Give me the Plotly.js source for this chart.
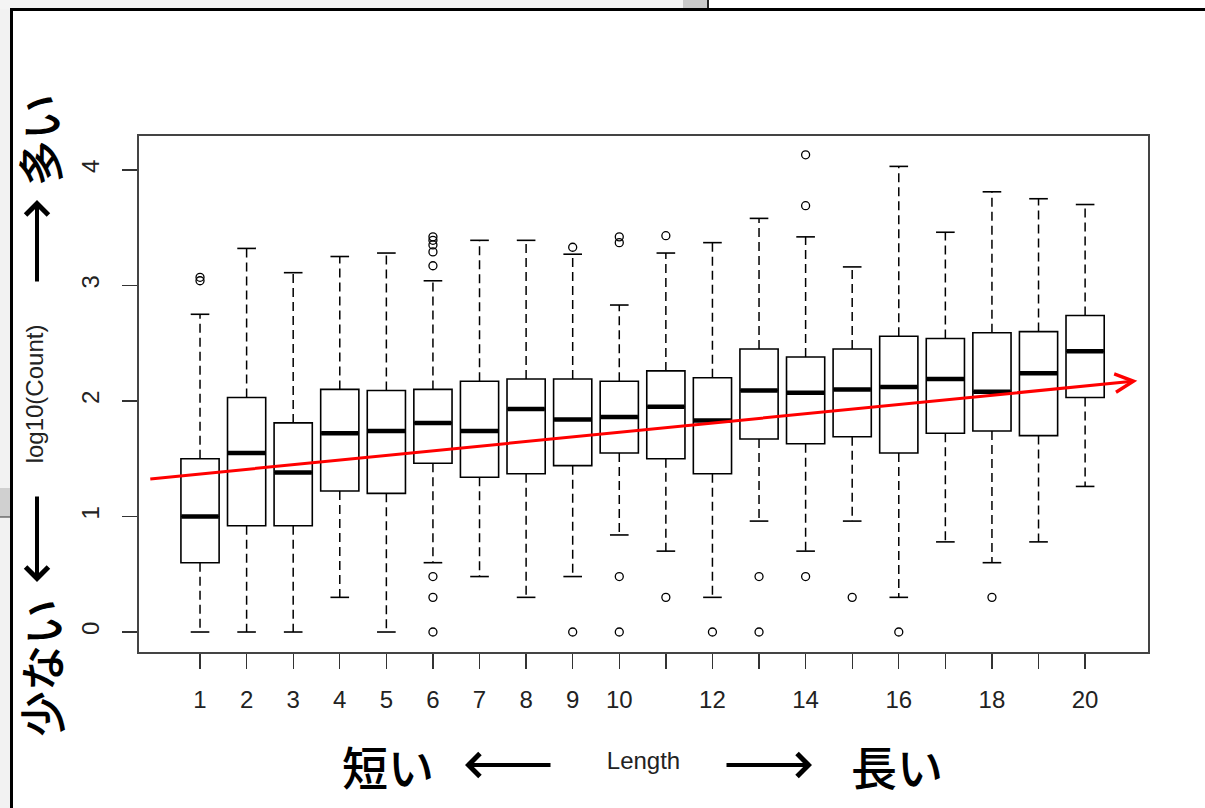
<!DOCTYPE html>
<html>
<head>
<meta charset="utf-8">
<script src="https://cdn.plot.ly/plotly-3.0.1.min.js"></script>
<style>html,body{margin:0;padding:0;background:#fff;}#chart{width:1205px;height:808px;}</style>
</head>
<body>
<div id="chart"></div>
<script>
// ---- data ----
const lengths = [1,2,3,4,5,6,7,8,9,10,11,12,13,14,15,16,17,18,19,20];
const q1   = [0.60,0.92,0.92,1.22,1.20,1.46,1.34,1.37,1.44,1.55,1.50,1.37,1.67,1.63,1.69,1.55,1.72,1.74,1.70,2.03];
const med  = [1.00,1.55,1.38,1.72,1.74,1.81,1.74,1.93,1.84,1.86,1.95,1.83,2.09,2.07,2.10,2.12,2.19,2.08,2.24,2.43];
const q3   = [1.50,2.03,1.81,2.10,2.09,2.10,2.17,2.19,2.19,2.17,2.26,2.20,2.45,2.38,2.45,2.56,2.54,2.59,2.60,2.74];
const lowW = [0,0,0,0.30,0,0.60,0.48,0.30,0.48,0.84,0.70,0.30,0.96,0.70,0.96,0.30,0.78,0.60,0.78,1.26];
const upW  = [2.75,3.32,3.11,3.25,3.28,3.04,3.39,3.39,3.27,2.83,3.28,3.37,3.58,3.42,3.16,4.03,3.46,3.81,3.75,3.70];
const outX = [1,1, 6,6,6,6,6,6,6,6, 9,9, 10,10,10,10, 11,11, 12, 13,13, 14,14,14, 15, 16, 18];
const outY = [3.04,3.07, 3.42,3.39,3.35,3.29,3.17,0.48,0.30,0, 3.33,0, 3.42,3.37,0.48,0, 3.43,0.30, 0, 0.48,0, 4.13,3.69,0.48, 0.30, 0, 0.30];
const xTickVals = [1,2,3,4,5,6,7,8,9,10,11,12,13,14,15,16,17,18,19,20];
const xTickText = ['1','2','3','4','5','6','7','8','9','10','','12','','14','','16','','18','','20'];
const yTickVals = [0,1,2,3,4];
const trendX = [-0.1, 21.12];
const trendY = [1.324, 2.174];

// ---- layout geometry ----
const W = 1205, H = 808;
const M = {l:139, r:57, t:136, b:156};
const PW = W - M.l - M.r, PH = H - M.t - M.b;
const px = v => (v - M.l) / PW;
const py = v => (H - M.b - v) / PH;

const BOXW = 0.82, CAP = 0.2;
const wx = [], wy = [], cx = [], cy = [], mx = [], my = [];
lengths.forEach((L, i) => {
  wx.push(L, L, null, L, L, null);
  wy.push(q3[i], upW[i], null, q1[i], lowW[i], null);
  cx.push(L - CAP, L + CAP, null, L - CAP, L + CAP, null);
  cy.push(upW[i], upW[i], null, lowW[i], lowW[i], null);
  mx.push(L - BOXW/2 + 0.01, L + BOXW/2 - 0.01, null);
  my.push(med[i], med[i], null);
});

const traces = [
  {type:'scatter', mode:'lines', x:wx, y:wy, hoverinfo:'skip', showlegend:false,
   line:{color:'#000', width:1.5, dash:'9px,5px'}},
  {type:'scatter', mode:'lines', x:cx, y:cy, hoverinfo:'skip', showlegend:false,
   line:{color:'#000', width:1.6}},
  {type:'box', x:lengths, q1:q1, median:med, q3:q3, lowerfence:q1, upperfence:q3,
   width:BOXW, whiskerwidth:0, boxpoints:false, fillcolor:'#fff', showlegend:false,
   line:{color:'#000', width:1.6}},
  {type:'scatter', mode:'lines', x:mx, y:my, hoverinfo:'skip', showlegend:false,
   line:{color:'#000', width:4.5}},
  {type:'scatter', mode:'markers', x:outX, y:outY, showlegend:false,
   marker:{symbol:'circle-open', size:8, color:'#000', line:{width:1.3, color:'#000'}}}
];

const tickFont = {family:'Liberation Sans, Arial, sans-serif', size:24, color:'#222'};
const jpFont = {family:'Noto Sans CJK JP, sans-serif', size:46, color:'#000', weight:500};
const txt = (x, y, text, angle) => ({xref:'paper', yref:'paper', x:px(x), y:py(y), text:text,
  textangle:angle || 0, showarrow:false, xanchor:'center', yanchor:'middle', font:jpFont});
const arr = (x, y, ax, ay) => ({xref:'paper', yref:'paper', x:px(x), y:py(y), ax:ax, ay:ay, text:'',
  showarrow:true, arrowhead:4, arrowsize:1.1, arrowwidth:4, arrowcolor:'#000'});

const annotations = [
  // red trend arrow
  {x:trendX[1], y:trendY[1], ax:trendX[0], ay:trendY[0], xref:'x', yref:'y', axref:'x', ayref:'y',
   text:'', showarrow:true, arrowhead:5, arrowsize:1.2, arrowwidth:3, arrowcolor:'#ff0000'},
  txt(388, 765, '短い'),
  txt(897, 765, '長い'),
  arr(465, 765, 87, 0),
  arr(812, 765, -87, 0),
  txt(38, 140, '多い', -90),
  txt(40, 668, '少ない', -90),
  arr(37, 200, 0, 83),
  arr(37, 582, 0, -87)
];

const shapes = [
  // screenshot surroundings
  {type:'rect', xref:'paper', yref:'paper', x0:px(0), x1:px(11), y0:py(808), y1:py(0), fillcolor:'#f2f2f2', line:{width:0}, layer:'below'},
  {type:'rect', xref:'paper', yref:'paper', x0:px(0), x1:px(683), y0:py(9), y1:py(0), fillcolor:'#f4f4f4', line:{width:0}, layer:'below'},
  {type:'rect', xref:'paper', yref:'paper', x0:px(683), x1:px(707), y0:py(9), y1:py(0), fillcolor:'#c9c9c9', line:{width:0}, layer:'below'},
  {type:'line', xref:'paper', yref:'paper', x0:px(708), x1:px(708), y0:py(9), y1:py(0), line:{color:'#222', width:2}},
  {type:'rect', xref:'paper', yref:'paper', x0:px(0), x1:px(11), y0:py(517), y1:py(488), fillcolor:'#d0d0d0', line:{width:0}, layer:'below'},
  {type:'line', xref:'paper', yref:'paper', x0:px(0), x1:px(11), y0:py(517), y1:py(517), line:{color:'#333', width:1}},
  {type:'line', xref:'paper', yref:'paper', x0:px(11.5), x1:px(11.5), y0:py(808), y1:py(8), line:{color:'#000', width:3}},
  {type:'line', xref:'paper', yref:'paper', x0:px(10), x1:px(1205), y0:py(9.5), y1:py(9.5), line:{color:'#000', width:3}}
];

const layout = {
  width:W, height:H, margin:M, paper_bgcolor:'#fff', plot_bgcolor:'#fff', showlegend:false,
  xaxis:{range:[-0.31, 21.35], tickmode:'array', tickvals:xTickVals, ticktext:xTickText,
    ticks:'outside', ticklen:15, tickwidth:1.3, tickcolor:'#333', tickfont:tickFont, ticklabelstandoff:10,
    showline:true, mirror:true, linecolor:'#444', linewidth:2, showgrid:false, zeroline:false,
    title:{text:'Length', font:tickFont, standoff:40}, automargin:false},
  yaxis:{range:[-0.173, 4.293], tickmode:'array', tickvals:yTickVals, ticktext:yTickVals.map(String),
    tickangle:-90, ticks:'outside', ticklen:15, tickwidth:1.3, tickcolor:'#333', tickfont:tickFont, ticklabelstandoff:13,
    showline:true, mirror:true, linecolor:'#444', linewidth:2, showgrid:false, zeroline:false,
    title:{text:'log10(Count)', font:tickFont, standoff:27}, automargin:false},
  annotations:annotations, shapes:shapes
};

Plotly.newPlot('chart', traces, layout, {staticPlot:true, displayModeBar:false});
</script>
</body>
</html>
